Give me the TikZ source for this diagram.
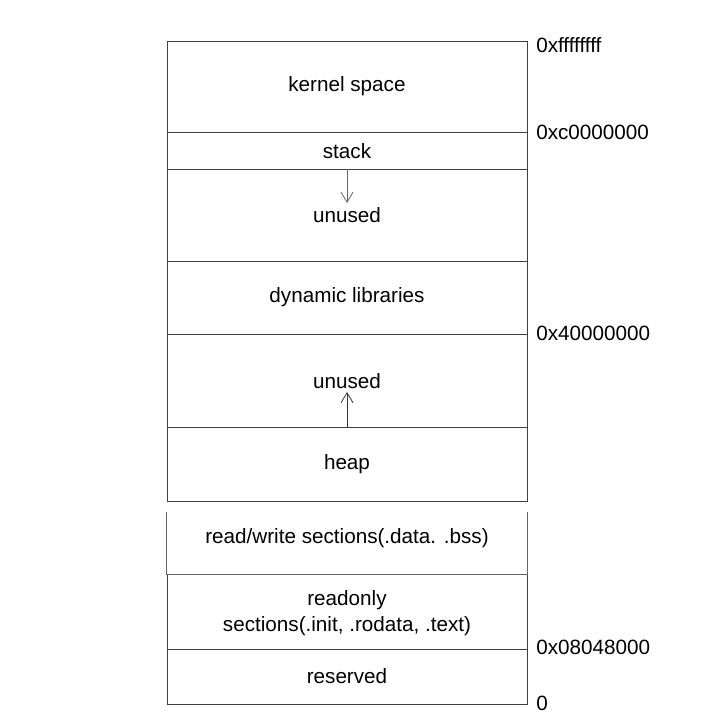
\documentclass[tikz,border=0pt]{standalone}
\usepackage{fontspec}
\setmainfont{Liberation Sans}
\usetikzlibrary{arrows.meta}
\begin{document}
\begin{tikzpicture}[x=0.75pt,y=-0.75pt,
  every node/.style={font=\fontsize{15.5pt}{19pt}\selectfont, text=black},
  region/.style={rectangle, draw=black!75, line width=0.6pt, inner sep=0pt,
    minimum width=270pt, align=center},
  bare/.style={region, draw=none},
  label/.style={inner sep=0pt, align=center},
  addr/.style={anchor=west, inner sep=0pt},
  memline/.style={draw=black!60, line width=0.6pt},
  growarrow/.style={draw=black!80, line width=0.6pt, -{Straight Barb[length=7.5pt,width=9pt]}}]
\useasboundingbox (0,0) rectangle (710,724);

% address space, top to bottom
\node[region, minimum height=68.25pt] (kernel)  at (347,86.5)  {};
\node[region, minimum height=27.75pt] (stack)   at (347,150.5) {};
\node[region, minimum height=69pt]    (unusedA) at (347,215)   {};
\node[region, minimum height=54.75pt] (dynlib)  at (347,297.5) {};
\node[region, minimum height=69.75pt] (unusedB) at (347,380.5) {};
\node[region, minimum height=55.5pt]  (heap)    at (347,464)   {};
\node[bare,   minimum height=46.5pt]  (rw)      at (347,543)   {};
\node[region, minimum height=56.25pt] (ro)      at (347,611.5) {};
\node[region, minimum height=41.25pt] (rsv)     at (347,676.5) {};

% region names
\node[label] (kerneltext)  at (347,86)  {kernel space};
\node[label] (stacktext)   at (347,151) {stack};
\node[label] (unusedAtext) at (347,215) {unused};
\node[label] (dynlibtext)  at (347,297) {dynamic libraries};
\node[label] (unusedBtext) at (347,381) {unused};
\node[label] (heaptext)    at (347,464) {heap};
\node[label] (rwtext)      at (347,538) {read/write sections(.data. .bss)};
\node[label] (rotext)      at (347,613) {readonly\\sections(.init, .rodata, .text)};
\node[label] (rsvtext)     at (347,676) {reserved};

% the read/write block stands apart: no top edge
\draw[memline] (rw.north west) -- (rw.south west) -- (rw.south east) -- (rw.north east);

% growth directions
\coordinate (stackgrow) at (347,203);
\coordinate (heapgrow)  at (347,392);
\draw[growarrow, draw=black!60] (stack.south) -- (stackgrow);
\draw[growarrow] (heap.north) -- (heapgrow);

% boundary addresses
\node[addr] (a1) at (536,45)  {0xffffffff};
\node[addr] (a2) at (536,132) {0xc0000000};
\node[addr] (a3) at (536,333) {0x40000000};
\node[addr] (a4) at (536,647) {0x08048000};
\node[addr] (a5) at (536,703) {0};
\end{tikzpicture}
\end{document}
